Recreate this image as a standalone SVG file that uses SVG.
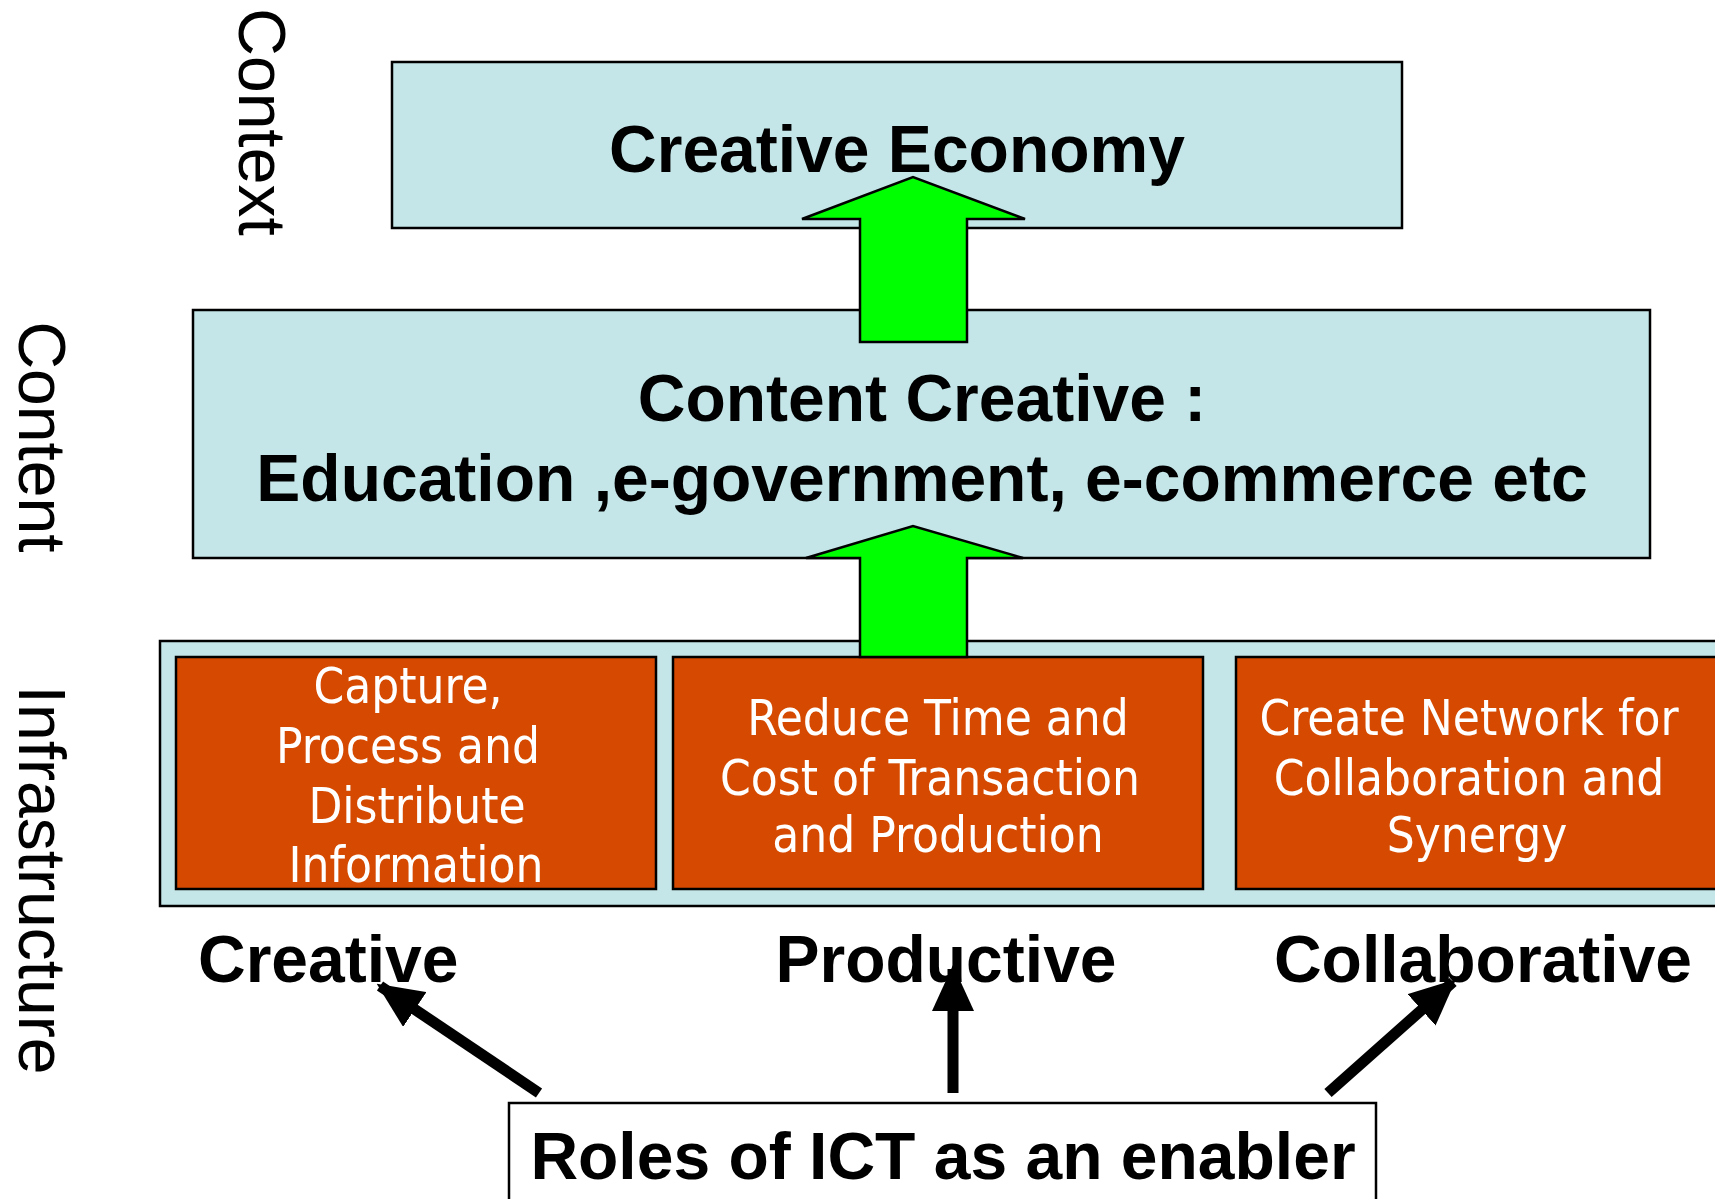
<svg xmlns="http://www.w3.org/2000/svg" width="1715" height="1199" viewBox="0 0 1715 1199">
<style>
.lb{fill:#C4E6E8;stroke:#000;stroke-width:2.5}
.or{fill:#D54A00;stroke:#000;stroke-width:2.5}
.gr{fill:#00FF00;stroke:#000;stroke-width:2.5;stroke-linejoin:miter}
.bt{font-family:"Liberation Sans",Arial,sans-serif;font-weight:bold;font-size:66px;fill:#000}
.side{font-family:"Liberation Sans",Arial,sans-serif;font-size:66px;fill:#000}
.wt{font-family:"DejaVu Sans Condensed","DejaVu Sans",sans-serif;font-size:49px;fill:#fff;text-anchor:middle}
.conn{stroke:#000;stroke-width:11;fill:none}
</style>
<defs>
<marker id="ah" markerUnits="userSpaceOnUse" markerWidth="46" markerHeight="42" refX="42" refY="21" orient="auto" viewBox="0 0 46 42">
<path d="M0,0 L46,21 L0,42 Z" fill="#000"/>
</marker>
</defs>
<rect width="1715" height="1199" fill="#fff"/>

<g id="label-context"><text class="side" transform="translate(239,122) rotate(90)" text-anchor="middle">Context</text></g>
<g id="label-content"><text class="side" transform="translate(19,437) rotate(90)" text-anchor="middle">Content</text></g>
<g id="label-infrastructure"><text class="side" transform="translate(19,880) rotate(90)" text-anchor="middle">Infrastructure</text></g>

<g id="creative-economy">
<rect class="lb" x="392" y="62" width="1010" height="166"/>
<text class="bt" x="897" y="172" text-anchor="middle">Creative Economy</text>
</g>

<g id="content-creative">
<rect class="lb" x="193" y="310" width="1457" height="248"/>
<text class="bt" x="922" y="421" text-anchor="middle">Content Creative :</text>
<text class="bt" x="922" y="501" text-anchor="middle">Education ,e-government, e-commerce etc</text>
</g>

<g id="infrastructure">
<rect class="lb" x="160" y="641" width="1570" height="265"/>
</g>

<g id="capture">
<rect class="or" x="176" y="657" width="480" height="232"/>
<text class="wt" x="408" y="703">Capture,</text>
<text class="wt" x="408" y="763">Process and</text>
<text class="wt" x="417" y="823">Distribute</text>
<text class="wt" x="416" y="882">Information</text>
</g>

<g id="reduce">
<rect class="or" x="673" y="657" width="530" height="232"/>
<text class="wt" x="938" y="735">Reduce Time and</text>
<text class="wt" x="930" y="795">Cost of Transaction</text>
<text class="wt" x="938" y="852">and Production</text>
</g>

<g id="network">
<rect class="or" x="1236" y="657" width="500" height="232"/>
<text class="wt" x="1469" y="735">Create Network for</text>
<text class="wt" x="1469" y="795">Collaboration and</text>
<text class="wt" x="1477" y="852">Synergy</text>
</g>

<g id="label-creative"><text class="bt" x="198" y="982">Creative</text></g>
<g id="label-productive"><text class="bt" x="946" y="982" text-anchor="middle">Productive</text></g>
<g id="label-collaborative"><text class="bt" x="1483" y="982" text-anchor="middle">Collaborative</text></g>

<g id="roles">
<rect x="509" y="1103" width="867" height="110" fill="#fff" stroke="#000" stroke-width="2.5"/>
<text class="bt" x="943" y="1179" text-anchor="middle">Roles of ICT as an enabler</text>
</g>

<g id="connectors">
<path class="gr" d="M860,342 L860,219 L802,219 L913,177 L1025,219 L967,219 L967,342 Z"/>
<path class="gr" d="M860,657 L860,558 L806,558 L913,526 L1023,558 L967,558 L967,657 Z"/>
<line class="conn" x1="539" y1="1093" x2="380" y2="986" marker-end="url(#ah)"/>
<line class="conn" x1="953" y1="1093" x2="953" y2="969" marker-end="url(#ah)"/>
<line class="conn" x1="1328" y1="1093" x2="1453" y2="982" marker-end="url(#ah)"/>
</g>
</svg>
